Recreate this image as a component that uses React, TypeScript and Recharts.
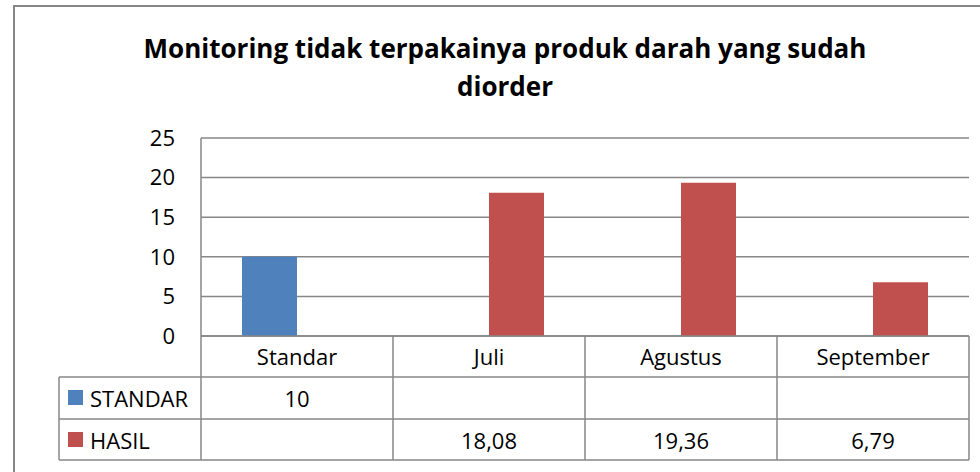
import { BarChart, Bar, XAxis, YAxis, CartesianGrid } from "recharts";

const categories = ["Standar", "Juli", "Agustus", "September"];
const standarValues = [10, null, null, null];
const hasilValues = [null, 18.08, 19.36, 6.79];
const yTicks = [0, 5, 10, 15, 20, 25];

const seriesNames = ["STANDAR", "HASIL"];
const BLUE = "#4F81BD";
const RED = "#C0504D";
const GRID = "#878787";
const FONT = "'Open Sans', sans-serif";

const W = 980;
const H = 472;
const PLOT_LEFT = 201;
const PLOT_RIGHT = 969;
const BAND = (PLOT_RIGHT - PLOT_LEFT) / categories.length;
const LEGEND_LEFT = 59;
const ROW = [0, 41, 83, 124];

const data = categories.map((name, i) => ({
  name,
  standar: standarValues[i],
  hasil: hasilValues[i],
}));

const fmt = (v: number | null) => (v == null ? "" : String(v).replace(".", ","));

// x-axis tick draws one column of the data table
function TableTick(props: any) {
  const { x, y, index, payload } = props;
  const left = x - BAND / 2;
  const right = x + BAND / 2;
  const row = data[index];
  return (
    <g fontFamily={FONT} fontSize={22} fill="#000">
      <text x={x} y={y + 20} textAnchor="middle" dominantBaseline="central">
        {payload.value}
      </text>
      <text x={x} y={y + 62} textAnchor="middle" dominantBaseline="central">
        {fmt(row.standar)}
      </text>
      <text x={x} y={y + 104} textAnchor="middle" dominantBaseline="central">
        {fmt(row.hasil)}
      </text>
      <line x1={right} x2={right} y1={y} y2={y + ROW[3]} stroke={GRID} strokeWidth={1.5} />
      {[1, 2, 3].map((r) => (
        <line key={r} x1={left} x2={right} y1={y + ROW[r]} y2={y + ROW[r]} stroke={GRID} strokeWidth={1.5} />
      ))}
      {index === 0 && (
        <g>
          <line x1={left} x2={left} y1={y} y2={y + ROW[3]} stroke={GRID} strokeWidth={1.5} />
          <line x1={LEGEND_LEFT} x2={LEGEND_LEFT} y1={y + ROW[1]} y2={y + ROW[3]} stroke={GRID} strokeWidth={1.5} />
          {[1, 2, 3].map((r) => (
            <line key={r} x1={LEGEND_LEFT} x2={left} y1={y + ROW[r]} y2={y + ROW[r]} stroke={GRID} strokeWidth={1.5} />
          ))}
          {seriesNames.map((s, i) => (
            <g key={s}>
              <rect x={68} y={y + 54 + i * 42} width={15} height={15} fill={i === 0 ? BLUE : RED} />
              <text x={90} y={y + 62 + i * 42} dominantBaseline="central">
                {s}
              </text>
            </g>
          ))}
        </g>
      )}
    </g>
  );
}

export default function App() {
  return (
    <div style={{ position: "absolute", left: 0, top: 0, width: W, height: H, overflow: "hidden", background: "#fff" }}>
      <div
        style={{
          position: "absolute",
          left: 13,
          top: 5,
          width: 1000,
          height: 500,
          border: `2px solid ${GRID}`,
        }}
      />
      <div
        style={{
          position: "absolute",
          left: 105,
          top: 29,
          width: 800,
          textAlign: "center",
          fontFamily: FONT,
          fontWeight: 700,
          fontSize: 26,
          lineHeight: "38px",
          color: "#000",
        }}
      >
        Monitoring tidak terpakainya produk darah yang sudah
        <br />
        diorder
      </div>
      <div style={{ position: "absolute", left: 0, top: 0 }}>
        <BarChart
          width={W}
          height={H}
          data={data}
          margin={{ top: 138, right: W - PLOT_RIGHT, left: 0, bottom: 12 }}
          barGap={0}
          barSize={55}
        >
          <CartesianGrid vertical={false} stroke={GRID} strokeWidth={1.5} />
          <XAxis
            dataKey="name"
            height={124}
            tickSize={0}
            tickMargin={0}
            axisLine={{ stroke: GRID, strokeWidth: 1.5 }}
            tick={<TableTick />}
            interval={0}
          />
          <YAxis
            width={PLOT_LEFT}
            domain={[0, 25]}
            ticks={yTicks}
            tickSize={0}
            tickMargin={26}
            axisLine={{ stroke: GRID, strokeWidth: 1.5 }}
            tick={{ fontSize: 22, fill: "#000", fontFamily: FONT }}
          />
          <Bar dataKey="standar" name="STANDAR" fill={BLUE} isAnimationActive={false} />
          <Bar dataKey="hasil" name="HASIL" fill={RED} isAnimationActive={false} />
        </BarChart>
      </div>
    </div>
  );
}
